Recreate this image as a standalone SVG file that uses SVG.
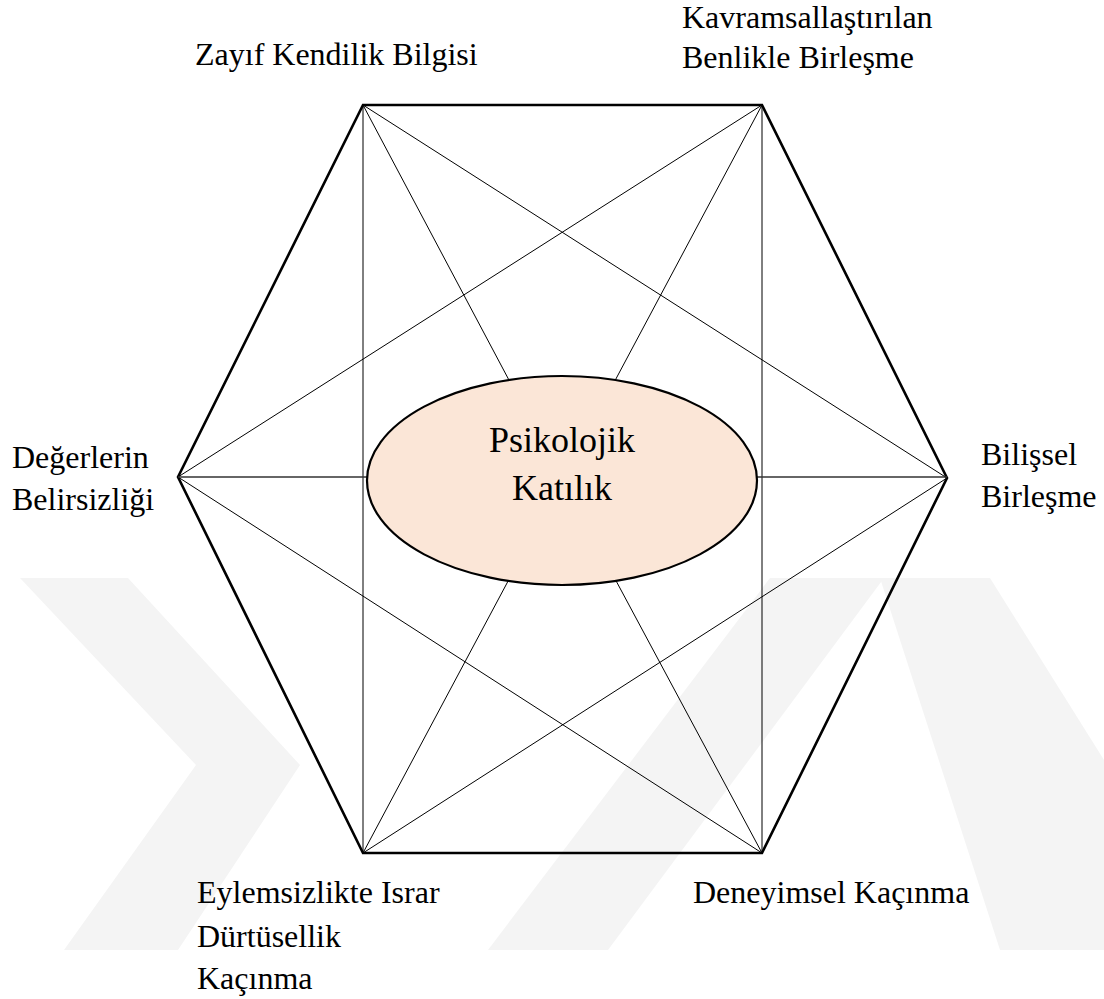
<svg xmlns="http://www.w3.org/2000/svg" width="1104" height="999" viewBox="0 0 1104 999">
<style>
.lbl{font-family:"Liberation Serif","Times New Roman",serif;font-size:32px;fill:#000}
.ctr{font-family:"Liberation Serif","Times New Roman",serif;font-size:36px;fill:#000;text-anchor:middle}
.thin{stroke:#000;stroke-width:1;fill:none}
.spoke{stroke:#333;stroke-width:1.6;fill:none}
.wm{fill:#f4f4f4;stroke:none}
</style>
<rect width="1104" height="999" fill="#fff"/>
<g id="watermark">
<polygon class="wm" points="20,578 128,578 300,765 178,950 64,950 196,765"/>
<polygon class="wm" points="488,950 608,950 884,578 770,578"/>
<polygon class="wm" points="880,578 990,578 1104,760 1104,950 1000,950"/>
</g>
<g id="hexagon">
<polygon points="363,105 762,105 947,478 762,853 363,853 178,477" fill="none" stroke="#000" stroke-width="2.6" stroke-linejoin="miter"/>
</g>
<g id="connectors">
<line class="thin" x1="363" y1="105" x2="363" y2="853"/>
<line class="thin" x1="762" y1="105" x2="762" y2="853"/>
<line class="thin" x1="363" y1="105" x2="947" y2="478"/>
<line class="thin" x1="947" y1="478" x2="363" y2="853"/>
<line class="thin" x1="178" y1="477" x2="762" y2="105"/>
<line class="thin" x1="178" y1="477" x2="762" y2="853"/>
<line class="thin" x1="363" y1="105" x2="562" y2="480"/>
<line class="thin" x1="762" y1="105" x2="562" y2="480"/>
<line class="thin" x1="363" y1="853" x2="562" y2="480"/>
<line class="thin" x1="762" y1="853" x2="562" y2="480"/>
<line class="spoke" x1="178" y1="477" x2="562" y2="477"/>
<line class="spoke" x1="947" y1="477" x2="562" y2="477"/>
</g>
<g id="center">
<ellipse cx="562" cy="480.5" rx="195" ry="104.5" fill="#FBE6D7" stroke="#000" stroke-width="2.2"/>
<text class="ctr" x="562" y="452">Psikolojik</text>
<text class="ctr" x="562" y="500">Katılık</text>
</g>
<g id="n-zayif"><text class="lbl" x="195" y="65">Zayıf Kendilik Bilgisi</text></g>
<g id="n-kavram"><text class="lbl" x="682" y="28">Kavramsallaştırılan</text><text class="lbl" x="682" y="68">Benlikle Birleşme</text></g>
<g id="n-deger"><text class="lbl" x="12" y="468">Değerlerin</text><text class="lbl" x="12" y="510">Belirsizliği</text></g>
<g id="n-bilis"><text class="lbl" x="981" y="465">Bilişsel</text><text class="lbl" x="981" y="507">Birleşme</text></g>
<g id="n-eylem"><text class="lbl" x="197" y="903">Eylemsizlikte Israr</text><text class="lbl" x="197" y="947">Dürtüsellik</text><text class="lbl" x="197" y="989">Kaçınma</text></g>
<g id="n-deney"><text class="lbl" x="693" y="903">Deneyimsel Kaçınma</text></g>
</svg>
